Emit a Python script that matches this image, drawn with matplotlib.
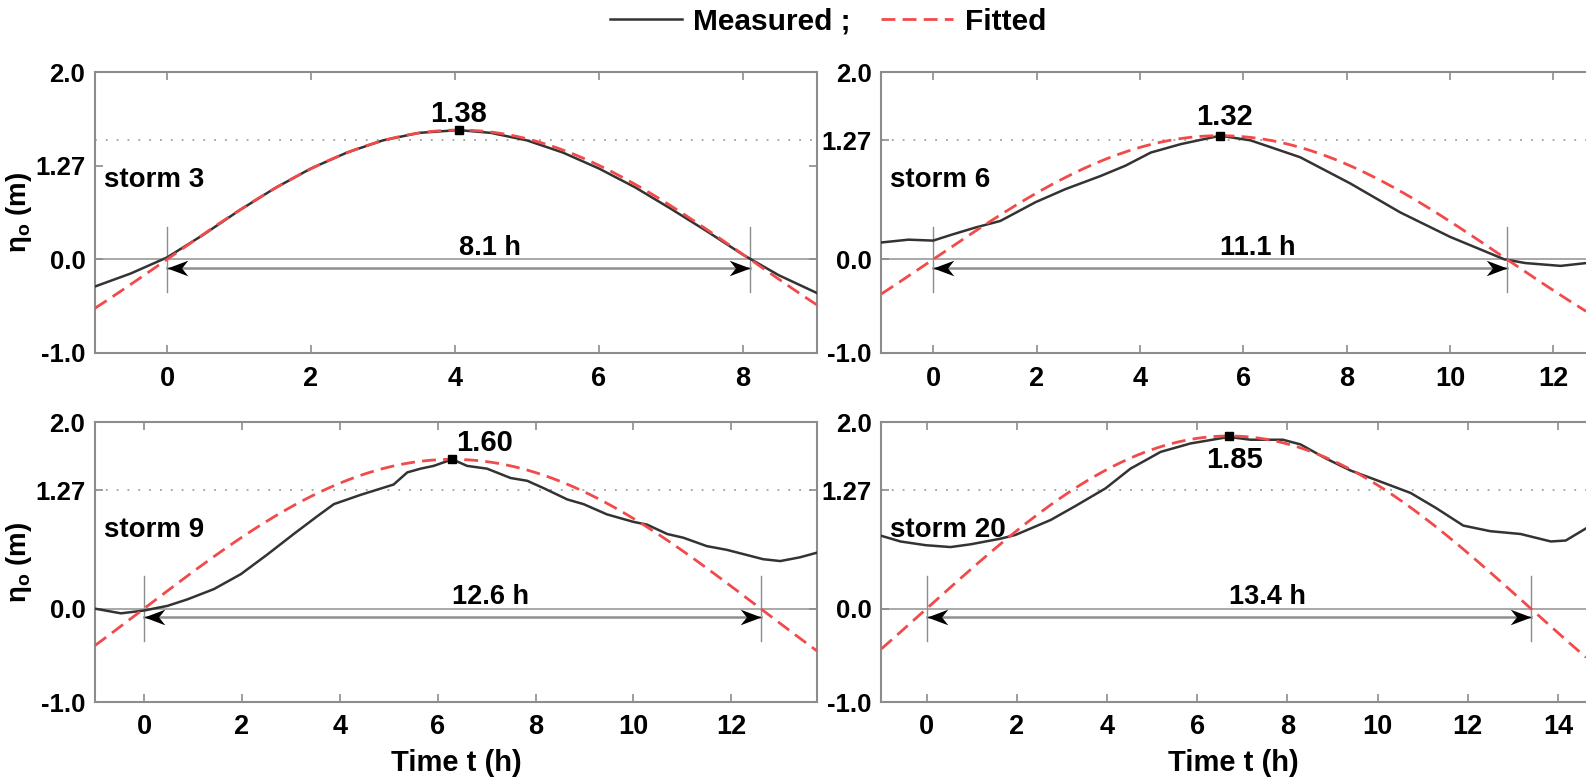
import matplotlib
matplotlib.use('Agg')
import matplotlib.pyplot as plt
import numpy as np
from matplotlib.path import Path

plt.rcParams['font.family'] = ['Liberation Sans', 'DejaVu Sans']
plt.rcParams['font.weight'] = 'bold'
plt.rcParams['mathtext.default'] = 'regular'

# ---------------- data ----------------
storm_names = ['storm 3', 'storm 6', 'storm 9', 'storm 20']
amplitudes = [1.38, 1.32, 1.60, 1.85]      # fitted peak (m)
periods = [8.1, 11.1, 12.6, 13.4]          # h
ref_level = 1.27

storm3_t = [-1, -0.5, 0, 0.5, 1, 1.5, 2, 2.5, 3, 3.5, 4.05, 4.5, 5, 5.5, 6, 6.5, 7, 7.5, 8, 8.5, 9.03]
storm3_eta = [-0.29, -0.15, 0.02, 0.26, 0.52, 0.76, 0.97, 1.14, 1.27, 1.35, 1.38, 1.35, 1.27, 1.14,
              0.97, 0.77, 0.54, 0.30, 0.05, -0.17, -0.36]

storm6_t = [-1, -0.48, 0, 0.34, 0.82, 1.3, 1.98, 2.56, 3.24, 3.72, 4.21, 4.79, 5.55, 6.14, 7.1,
            8.07, 9.04, 10.0, 11.05, 11.46, 12.14, 12.63]
storm6_eta = [0.18, 0.21, 0.20, 0.26, 0.34, 0.41, 0.61, 0.75, 0.89, 1.0, 1.14, 1.23, 1.32, 1.27, 1.09,
              0.81, 0.50, 0.24, 0.0, -0.04, -0.07, -0.04]

storm9_t = [-1, -0.47, 0, 0.48, 0.89, 1.43, 1.98, 2.52, 3.06, 3.54, 3.88, 4.43, 5.1, 5.38, 5.65, 5.92,
            6.3, 6.6, 7.01, 7.49, 7.83, 8.17, 8.65, 8.98, 9.46, 10.0, 10.28, 10.69, 11.02, 11.5, 11.91,
            12.65, 13.0, 13.4, 13.75]
storm9_eta = [0.0, -0.05, -0.02, 0.03, 0.10, 0.21, 0.37, 0.58, 0.80, 0.99, 1.12, 1.22, 1.33, 1.46, 1.50,
              1.53, 1.60, 1.53, 1.50, 1.40, 1.37, 1.29, 1.17, 1.12, 1.01, 0.93, 0.90, 0.80, 0.76, 0.67,
              0.63, 0.53, 0.51, 0.55, 0.60]

storm20_t = [-1, -0.58, -0.02, 0.53, 0.98, 1.64, 1.97, 2.75, 3.3, 3.97, 4.52, 5.19, 5.85, 6.7, 7.18,
             7.9, 8.29, 8.85, 9.4, 9.96, 10.73, 11.29, 11.9, 12.5, 13.17, 13.84, 14.17, 14.62]
storm20_eta = [0.78, 0.72, 0.68, 0.66, 0.69, 0.75, 0.79, 0.95, 1.10, 1.29, 1.50, 1.68, 1.77, 1.84, 1.81,
               1.81, 1.76, 1.61, 1.48, 1.38, 1.24, 1.08, 0.89, 0.83, 0.80, 0.72, 0.73, 0.86]

measured_t = [storm3_t, storm6_t, storm9_t, storm20_t]
measured_eta = [storm3_eta, storm6_eta, storm9_eta, storm20_eta]

xticks_list = [[0, 2, 4, 6, 8], [0, 2, 4, 6, 8, 10, 12],
               [0, 2, 4, 6, 8, 10, 12], [0, 2, 4, 6, 8, 10, 12, 14]]
ytick_labels = ['-1.0', '0.0', '1.27', '2.0']
ytick_pos_list = [[-1, 0, 1.0, 2.0], [-1, 0, 1.27, 2.0], [-1, 0, 1.27, 2.0], [-1, 0, 1.27, 2.0]]

# ---------------- layout / style ----------------
W, H = 1586, 779
fig = plt.figure(figsize=(W / 100, H / 100), dpi=100)
positions = [
    [95 / W, 1 - 353 / H, 722 / W, 281 / H],
    [881.5 / W, 1 - 353 / H, 704.5 / W, 281 / H],
    [95 / W, 1 - 702 / H, 722 / W, 280 / H],
    [881.5 / W, 1 - 702 / H, 704.5 / W, 280 / H],
]
xlims = [(-1, 9.03), (-1, 12.63), (-1, 13.75), (-1, 14.62)]
peak_offsets = [((0, 6), 'center', 'baseline'), ((3, 8), 'center', 'baseline'),
                ((3, 6), 'left', 'baseline'), ((4, -7), 'center', 'top')]

RED = '#f24a4a'
BLACK = '#333333'
GRAY = '#8c8c8c'

right_head = Path([(0, 0), (-2, 0.75), (-1.4, 0), (-2, -0.75), (0, 0)],
                  [Path.MOVETO, Path.LINETO, Path.LINETO, Path.LINETO, Path.CLOSEPOLY])
left_head = Path([(0, 0), (2, 0.75), (1.4, 0), (2, -0.75), (0, 0)],
                 [Path.MOVETO, Path.LINETO, Path.LINETO, Path.LINETO, Path.CLOSEPOLY])

handles = None
for i in range(4):
    ax = fig.add_axes(positions[i])
    A, T = amplitudes[i], periods[i]
    x0, x1 = xlims[i]
    ax.set_xlim(x0, x1)
    ax.set_ylim(-1, 2.0)

    ax.axhline(0, color='#9a9a9a', lw=1.2, zorder=1)
    ax.axhline(ref_level, color='#a0a0a0', lw=1.3, ls=(0, (1, 5)), zorder=1)

    # period markers
    for xv in (0, T):
        ax.plot([xv, xv], [-0.35, 0.35], color=GRAY, lw=1.0, zorder=1)
    ya = -0.09
    ax.plot([0, T], [ya, ya], color='#909090', lw=1.8, zorder=2)
    ax.plot([0], [ya], marker=left_head, ms=30, color='black', mew=0, ls='none', zorder=5)
    ax.plot([T], [ya], marker=right_head, ms=30, color='black', mew=0, ls='none', zorder=5)

    # curves
    tf = np.linspace(x0, x1, 400)
    lm, = ax.plot(measured_t[i], measured_eta[i], color=BLACK, lw=1.8, zorder=3)
    lf, = ax.plot(tf, A * np.sin(np.pi * tf / T), color=RED, lw=2.0, dashes=(5, 2.6), zorder=4)
    handles = [lm, lf]
    ax.plot([T / 2], [A], 's', color='black', ms=6, zorder=6)

    off, ha, va = peak_offsets[i]
    ax.annotate(f'{A:.2f}', xy=(T / 2, A), xytext=off, textcoords='offset points',
                ha=ha, va=va, fontsize=21, fontweight='bold', zorder=7)
    ax.text(T / 2, 0.05, f'{T:.1f} h', ha='left', va='baseline', fontsize=19.5, fontweight='bold')
    ax.text(0.012, 0.59, storm_names[i], transform=ax.transAxes, ha='left', va='baseline',
            fontsize=20, fontweight='bold')

    ax.set_xticks(xticks_list[i])
    ax.set_yticks(ytick_pos_list[i])
    ax.set_yticklabels(ytick_labels)
    for s in ax.spines.values():
        s.set_color(GRAY)
        s.set_linewidth(1.5)
    ax.tick_params(direction='in', length=6, width=1.2, color=GRAY, top=True, right=True,
                   labelcolor='black')
    ax.tick_params(axis='x', pad=9, labelsize=19.5)
    ax.tick_params(axis='y', pad=7, labelsize=18.5)
    for lab in ax.get_xticklabels() + ax.get_yticklabels():
        lab.set_fontweight('bold')
    if i in (1, 3):
        ax.spines['right'].set_visible(False)
        ax.tick_params(right=False)
    if i in (0, 2):
        ax.set_ylabel('η$_o$ (m)', fontsize=20, fontweight='bold')
        ax.yaxis.set_label_coords(-0.085, 0.5)
    if i in (2, 3):
        ax.set_xlabel('Time t (h)', fontsize=21, fontweight='bold', labelpad=6)

fig.legend(handles, ['Measured ;', 'Fitted'], loc='center', bbox_to_anchor=(0.522, 0.972),
           ncol=2, frameon=False, prop={'weight': 'bold', 'size': 21.5}, handlelength=2.4,
           handletextpad=0.4, columnspacing=1.0)

fig.savefig('out.png', dpi=100)
